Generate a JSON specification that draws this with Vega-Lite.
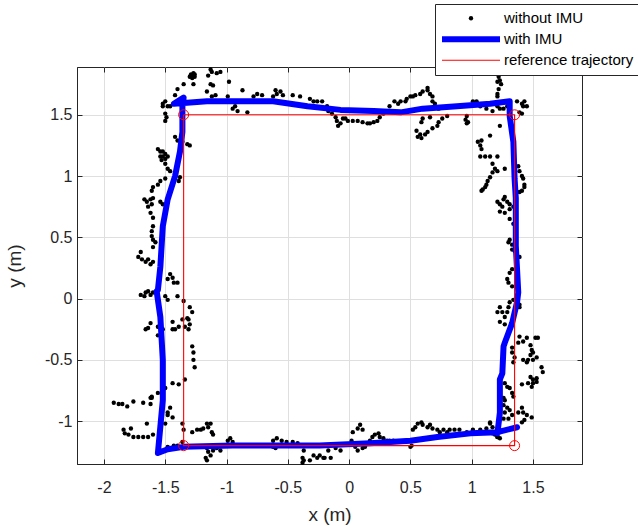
{
"$schema": "https://vega.github.io/schema/vega-lite/v6.json",
"width": 505, "height": 397,
"autosize": {"type": "none"},
"padding": {"left": 77, "top": 67, "right": 56, "bottom": 62},
"background": "white",
"config": {
  "view": {"stroke": "#262626", "strokeWidth": 1},
  "axis": {"labelFont": "Liberation Sans", "titleFont": "Liberation Sans", "labelFontSize": 16, "titleFontSize": 19, "titleFontWeight": "normal", "labelColor": "#262626", "titleColor": "#262626", "domainColor": "#262626", "tickColor": "#262626", "gridColor": "#dfdfdf", "gridOpacity": 1, "tickSize": -5, "tickWidth": 1},
  "legend": {"orient": "none", "legendX": 358, "legendY": -63, "title": null, "clipHeight": 20.5, "rowPadding": 0, "padding": 4, "labelOffset": 1, "labelFont": "Liberation Sans", "labelFontSize": 15, "labelColor": "#000000", "strokeColor": "#262626", "fillColor": "white", "labelLimit": 300, "symbolOpacity": 1}
},
"datasets": {
"pts": [
{"x":-1.50,"y":1.61},{"x":-1.48,"y":1.57},{"x":-1.50,"y":1.51},{"x":-1.49,"y":1.48},{"x":-1.50,"y":1.45},{"x":-1.42,"y":1.32},{"x":-1.40,"y":1.29},{"x":-1.36,"y":1.28},{"x":-1.32,"y":1.26},{"x":-1.30,"y":1.25},{"x":-1.56,"y":1.22},{"x":-1.54,"y":1.20},{"x":-1.52,"y":1.20},{"x":-1.50,"y":1.18},{"x":-1.54,"y":1.16},{"x":-1.52,"y":1.16},{"x":-1.48,"y":1.16},{"x":-1.53,"y":1.13},{"x":-1.50,"y":1.14},{"x":-1.50,"y":1.10},{"x":-1.48,"y":1.06},{"x":-1.46,"y":1.04},{"x":-1.38,"y":0.99},{"x":-1.39,"y":0.96},{"x":-1.50,"y":0.98},{"x":-1.54,"y":0.96},{"x":-1.56,"y":0.93},{"x":-1.60,"y":0.91},{"x":-1.61,"y":0.88},{"x":-1.67,"y":0.81},{"x":-1.65,"y":0.79},{"x":-1.62,"y":0.81},{"x":-1.61,"y":0.77},{"x":-1.64,"y":0.75},{"x":-1.60,"y":0.82},{"x":-1.54,"y":0.79},{"x":-1.52,"y":0.77},{"x":-1.62,"y":0.70},{"x":-1.60,"y":0.66},{"x":-1.60,"y":0.59},{"x":-1.61,"y":0.55},{"x":-1.61,"y":0.51},{"x":-1.60,"y":0.48},{"x":-1.58,"y":0.46},{"x":-1.60,"y":0.42},{"x":-1.70,"y":0.38},{"x":-1.72,"y":0.34},{"x":-1.69,"y":0.32},{"x":-1.66,"y":0.30},{"x":-1.64,"y":0.32},{"x":-1.60,"y":0.30},{"x":-1.62,"y":0.28},{"x":-1.46,"y":0.20},{"x":-1.44,"y":0.17},{"x":-1.48,"y":0.16},{"x":-1.43,"y":0.13},{"x":-1.40,"y":0.13},{"x":-1.70,"y":0.03},{"x":-1.66,"y":0.05},{"x":-1.64,"y":0.06},{"x":-1.62,"y":0.03},{"x":-1.60,"y":0.05},{"x":-1.67,"y":0.02},{"x":-1.50,"y":0.02},{"x":-1.48,"y":-0.01},{"x":-1.40,"y":0.02},{"x":-1.35,"y":-0.02},{"x":-1.30,"y":-0.07},{"x":-1.28,"y":-0.11},{"x":-1.31,"y":-0.17},{"x":-1.32,"y":-0.16},{"x":-1.30,"y":-0.21},{"x":-1.62,"y":-0.20},{"x":-1.64,"y":-0.24},{"x":-1.66,"y":-0.25},{"x":-1.56,"y":-0.23},{"x":-1.52,"y":-0.25},{"x":-1.44,"y":-0.19},{"x":-1.42,"y":-0.25},{"x":-1.36,"y":-0.17},{"x":-1.34,"y":-0.23},{"x":-1.31,"y":-0.25},{"x":-1.44,"y":-0.25},{"x":-1.39,"y":-0.23},{"x":-1.56,"y":-0.30},{"x":-1.28,"y":-0.39},{"x":-1.27,"y":-0.44},{"x":-1.27,"y":-0.50},{"x":-1.26,"y":-0.56},{"x":-1.44,"y":-0.69},{"x":-1.39,"y":-0.70},{"x":-1.34,"y":-0.66},{"x":-1.50,"y":-0.73},{"x":-1.61,"y":-0.80},{"x":-1.62,"y":-0.81},
{"x":-1.28,"y":1.82},{"x":-1.27,"y":1.84},{"x":-1.30,"y":1.81},{"x":-1.26,"y":1.81},{"x":-1.29,"y":1.83},{"x":-1.26,"y":1.83},{"x":-1.28,"y":1.80},{"x":-1.35,"y":1.75},{"x":-1.27,"y":1.75},{"x":-1.13,"y":1.87},{"x":-1.12,"y":1.85},{"x":-1.08,"y":1.84},{"x":-1.05,"y":1.85},{"x":-1.15,"y":1.82},{"x":-1.13,"y":1.75},{"x":-1.11,"y":1.74},{"x":-0.98,"y":1.77},{"x":-1.40,"y":1.71},{"x":-1.42,"y":1.66},{"x":-1.16,"y":1.69},{"x":-1.09,"y":1.66},{"x":-1.12,"y":1.65},{"x":-0.87,"y":1.70},{"x":-0.99,"y":1.65},{"x":-0.95,"y":1.61},{"x":-0.93,"y":1.57},{"x":-0.91,"y":1.53},{"x":-0.95,"y":1.55},{"x":-0.83,"y":1.52},{"x":-0.81,"y":1.61},{"x":-0.78,"y":1.65},{"x":-0.75,"y":1.67},{"x":-0.71,"y":1.66},{"x":-0.60,"y":1.70},{"x":-0.59,"y":1.67},{"x":-0.56,"y":1.69},{"x":-0.54,"y":1.66},{"x":-0.62,"y":1.65},{"x":-0.46,"y":1.66},{"x":-0.40,"y":1.65},{"x":-0.32,"y":1.63},{"x":-0.29,"y":1.61},{"x":-0.26,"y":1.61},{"x":-0.22,"y":1.61},{"x":-0.18,"y":1.57},{"x":-0.17,"y":1.53},{"x":-0.14,"y":1.51},{"x":-0.11,"y":1.48},{"x":-0.10,"y":1.45},{"x":-0.07,"y":1.43},{"x":-0.09,"y":1.41},{"x":-0.05,"y":1.47},{"x":-0.01,"y":1.45},{"x":0.07,"y":1.45},{"x":-1.52,"y":1.57},{"x":-1.52,"y":1.59},{"x":-1.46,"y":1.57},
{"x":-0.03,"y":1.47},{"x":0.03,"y":1.45},{"x":0.11,"y":1.44},{"x":0.15,"y":1.43},{"x":0.17,"y":1.43},{"x":0.20,"y":1.44},{"x":0.23,"y":1.45},{"x":0.25,"y":1.48},{"x":0.28,"y":1.51},{"x":0.27,"y":1.52},{"x":0.33,"y":1.57},{"x":0.37,"y":1.61},{"x":0.40,"y":1.59},{"x":0.42,"y":1.61},{"x":0.46,"y":1.61},{"x":0.47,"y":1.63},{"x":0.50,"y":1.65},{"x":0.52,"y":1.65},{"x":0.54,"y":1.66},{"x":0.58,"y":1.67},{"x":0.60,"y":1.69},{"x":0.64,"y":1.70},{"x":0.64,"y":1.72},{"x":0.66,"y":1.67},{"x":0.68,"y":1.65},{"x":0.68,"y":1.61},{"x":0.70,"y":1.59},{"x":0.73,"y":1.55},{"x":0.80,"y":1.49},{"x":0.76,"y":1.47},{"x":0.73,"y":1.44},{"x":0.72,"y":1.41},{"x":0.68,"y":1.39},{"x":0.64,"y":1.36},{"x":0.62,"y":1.34},{"x":0.58,"y":1.34},{"x":0.55,"y":1.37},{"x":0.56,"y":1.32},{"x":0.59,"y":1.44},{"x":0.60,"y":1.47},{"x":0.66,"y":1.48},{"x":0.96,"y":1.49},{"x":0.95,"y":1.46},{"x":0.96,"y":1.43},{"x":0.97,"y":1.44},{"x":1.01,"y":1.61},{"x":1.04,"y":1.61},{"x":1.07,"y":1.57},{"x":1.12,"y":1.55},{"x":1.17,"y":1.53},{"x":1.21,"y":1.57},{"x":1.23,"y":1.55},{"x":1.26,"y":1.55},{"x":1.29,"y":1.57},{"x":1.22,"y":1.81},{"x":1.23,"y":1.78},{"x":1.21,"y":1.77},{"x":1.24,"y":1.75},{"x":1.22,"y":1.71},{"x":1.21,"y":1.67},{"x":1.21,"y":1.65},{"x":1.37,"y":1.61},{"x":1.41,"y":1.59},{"x":1.43,"y":1.61},{"x":1.45,"y":1.57},{"x":1.42,"y":1.57},{"x":1.39,"y":1.52},{"x":1.41,"y":1.51},{"x":1.23,"y":1.41},{"x":0.59,"y":1.31},
{"x":1.15,"y":1.33},{"x":1.08,"y":1.29},{"x":1.07,"y":1.25},{"x":1.05,"y":1.28},{"x":1.08,"y":1.22},{"x":1.07,"y":1.16},{"x":1.11,"y":1.16},{"x":1.15,"y":1.16},{"x":1.21,"y":1.16},{"x":1.17,"y":1.10},{"x":1.19,"y":1.06},{"x":1.21,"y":1.04},{"x":1.17,"y":1.03},{"x":1.27,"y":1.06},{"x":1.15,"y":0.99},{"x":1.13,"y":0.96},{"x":1.12,"y":0.93},{"x":1.11,"y":0.91},{"x":1.09,"y":0.89},{"x":1.08,"y":0.88},{"x":1.38,"y":1.08},{"x":1.39,"y":1.04},{"x":1.41,"y":1.00},{"x":1.42,"y":0.98},{"x":1.43,"y":0.93},{"x":1.43,"y":0.91},{"x":1.41,"y":0.88},{"x":1.39,"y":0.87},{"x":1.27,"y":0.83},{"x":1.21,"y":0.79},{"x":1.23,"y":0.77},{"x":1.26,"y":0.81},{"x":1.29,"y":0.79},{"x":1.31,"y":0.77},{"x":1.34,"y":0.75},{"x":1.23,"y":0.71},{"x":1.27,"y":0.70},{"x":1.31,"y":0.73},{"x":1.25,"y":0.75},{"x":1.31,"y":0.65},{"x":1.34,"y":0.61},{"x":1.31,"y":0.48},{"x":1.30,"y":0.46},{"x":1.33,"y":0.44},{"x":1.33,"y":0.40},{"x":1.35,"y":0.39},{"x":1.39,"y":0.34},{"x":1.33,"y":0.24},{"x":1.31,"y":0.21},{"x":1.29,"y":0.16},{"x":1.30,"y":0.13},{"x":1.33,"y":0.10},{"x":1.34,"y":-0.01},{"x":1.31,"y":-0.03},{"x":1.30,"y":-0.07},{"x":1.39,"y":-0.05},{"x":1.39,"y":-0.07},{"x":1.23,"y":-0.07},{"x":1.21,"y":-0.11},{"x":1.25,"y":-0.11},{"x":1.29,"y":-0.11},{"x":1.27,"y":-0.15},{"x":1.23,"y":-0.19},{"x":1.27,"y":-0.21},{"x":1.39,"y":-0.31},{"x":1.38,"y":-0.36},{"x":1.42,"y":-0.35},{"x":1.45,"y":-0.32},{"x":1.52,"y":-0.32},{"x":1.54,"y":-0.32},{"x":1.48,"y":-0.38},{"x":1.49,"y":-0.42},{"x":1.50,"y":-0.44},{"x":1.48,"y":-0.46},{"x":1.46,"y":-0.50},{"x":1.50,"y":-0.50},{"x":1.53,"y":-0.48},{"x":1.42,"y":-0.50},{"x":1.45,"y":-0.52},{"x":1.57,"y":-0.56},{"x":1.58,"y":-0.60},{"x":1.33,"y":-0.40},{"x":1.33,"y":-0.44},{"x":1.35,"y":-0.48},{"x":1.34,"y":-0.52},{"x":1.48,"y":-0.64},{"x":1.50,"y":-0.66},{"x":1.53,"y":-0.65},{"x":1.46,"y":-0.69},{"x":1.49,"y":-0.72},{"x":1.27,"y":-0.69},{"x":1.29,"y":-0.72},{"x":1.31,"y":-0.73},{"x":1.33,"y":-0.77},{"x":1.34,"y":-0.80},{"x":1.41,"y":-0.70},{"x":1.50,"y":-0.69},{"x":1.53,"y":-0.68},{"x":1.26,"y":-0.87},{"x":1.29,"y":-0.89},{"x":1.31,"y":-0.91},{"x":1.27,"y":-0.93},{"x":1.33,"y":-0.95},{"x":1.30,"y":-0.98},{"x":1.26,"y":-0.98},{"x":1.26,"y":-0.81},{"x":1.27,"y":-0.83},{"x":1.41,"y":-0.89},{"x":1.42,"y":-0.93},{"x":1.38,"y":-0.93},{"x":1.45,"y":-0.95},{"x":1.43,"y":-0.99},{"x":1.41,"y":-1.01},{"x":1.49,"y":-0.97},{"x":1.15,"y":-1.01},{"x":1.17,"y":-1.05},{"x":1.23,"y":-1.09},{"x":1.21,"y":-1.13},{"x":1.23,"y":-1.14},
{"x":-1.92,"y":-0.85},{"x":-1.88,"y":-0.86},{"x":-1.85,"y":-0.86},{"x":-1.81,"y":-0.88},{"x":-1.76,"y":-0.84},{"x":-1.68,"y":-0.85},{"x":-1.62,"y":-0.86},{"x":-1.61,"y":-0.81},{"x":-1.56,"y":-0.77},{"x":-1.52,"y":-0.75},{"x":-1.52,"y":-0.72},{"x":-1.46,"y":-0.89},{"x":-1.48,"y":-0.93},{"x":-1.48,"y":-0.95},{"x":-1.44,"y":-0.97},{"x":-1.50,"y":-1.02},{"x":-1.36,"y":-1.02},{"x":-1.35,"y":-1.07},{"x":-1.65,"y":-1.02},{"x":-1.84,"y":-1.07},{"x":-1.83,"y":-1.10},{"x":-1.80,"y":-1.11},{"x":-1.76,"y":-1.13},{"x":-1.72,"y":-1.13},{"x":-1.68,"y":-1.13},{"x":-1.64,"y":-1.13},{"x":-1.60,"y":-1.11},{"x":-1.78,"y":-1.06},{"x":-1.48,"y":-1.21},{"x":-1.46,"y":-1.22},{"x":-1.43,"y":-1.20},{"x":-1.40,"y":-1.20},{"x":-1.36,"y":-1.17},{"x":-1.28,"y":-1.09},{"x":-1.24,"y":-1.07},{"x":-1.21,"y":-1.07},{"x":-1.19,"y":-1.06},{"x":-1.16,"y":-1.02},{"x":-1.15,"y":-1.05},{"x":-1.13,"y":-1.02},{"x":-1.12,"y":-1.09},{"x":-1.11,"y":-1.11},{"x":-1.16,"y":-1.22},{"x":-1.15,"y":-1.25},{"x":-1.13,"y":-1.28},{"x":-1.17,"y":-1.30},{"x":-1.16,"y":-1.32},{"x":-1.11,"y":-1.24},{"x":-1.08,"y":-1.22},{"x":-1.05,"y":-1.24},{"x":-0.99,"y":-1.16},{"x":-0.97,"y":-1.14},{"x":-0.95,"y":-1.17},{"x":-0.62,"y":-1.16},{"x":-0.59,"y":-1.14},{"x":-0.55,"y":-1.16},{"x":-0.51,"y":-1.17},{"x":-0.46,"y":-1.17},{"x":-0.42,"y":-1.18},{"x":-0.62,"y":-1.21},{"x":-0.60,"y":-1.22},{"x":-0.37,"y":-1.24},{"x":-0.38,"y":-1.30},{"x":-0.37,"y":-1.32},{"x":-0.38,"y":-1.34},{"x":-0.32,"y":-1.32},{"x":-0.29,"y":-1.28},{"x":-0.26,"y":-1.30},{"x":-0.24,"y":-1.28},{"x":-0.21,"y":-1.30},{"x":-0.17,"y":-1.24},{"x":-0.20,"y":-1.30},{"x":-0.15,"y":-1.30},{"x":-0.11,"y":-1.22},{"x":-0.07,"y":-1.24},{"x":0.02,"y":-1.16},{"x":0.03,"y":-1.09},{"x":0.07,"y":-1.06},{"x":0.09,"y":-1.03},{"x":0.11,"y":-1.07},{"x":0.05,"y":-1.21},{"x":0.07,"y":-1.24},{"x":0.11,"y":-1.22},{"x":0.13,"y":-1.21},{"x":0.17,"y":-1.16},{"x":0.19,"y":-1.13},{"x":0.21,"y":-1.11},{"x":0.24,"y":-1.10},{"x":0.25,"y":-1.13},{"x":0.28,"y":-1.14},{"x":0.31,"y":-1.16},{"x":0.33,"y":-1.16},{"x":0.36,"y":-1.16},{"x":0.50,"y":-1.21},{"x":0.51,"y":-1.20},{"x":0.52,"y":-1.07},{"x":0.54,"y":-1.05},{"x":0.56,"y":-1.02},{"x":0.59,"y":-1.01},{"x":0.60,"y":-1.03},{"x":0.64,"y":-1.05},{"x":0.66,"y":-1.03},{"x":0.68,"y":-1.06},{"x":0.72,"y":-1.07},{"x":0.74,"y":-1.09},{"x":0.77,"y":-1.07},{"x":0.80,"y":-1.09},{"x":0.82,"y":-1.07},{"x":0.86,"y":-1.07},{"x":0.90,"y":-1.07},{"x":0.96,"y":-1.09},{"x":1.01,"y":-1.07},{"x":1.07,"y":-1.07},{"x":1.12,"y":-1.06},{"x":1.15,"y":-1.02},{"x":1.17,"y":-1.10},{"x":1.19,"y":-1.11},{"x":1.21,"y":-1.13}
],
"imu": [
{"i":0,"x":1.21,"y":-1.10},{"i":1,"x":1.23,"y":-0.93},{"i":2,"x":1.23,"y":-0.66},{"i":3,"x":1.25,"y":-0.61},{"i":4,"x":1.26,"y":-0.39},{"i":5,"x":1.27,"y":-0.36},{"i":6,"x":1.33,"y":-0.20},{"i":7,"x":1.37,"y":-0.03},{"i":8,"x":1.38,"y":0.05},{"i":9,"x":1.36,"y":0.43},{"i":10,"x":1.36,"y":0.82},{"i":11,"x":1.35,"y":0.98},{"i":12,"x":1.34,"y":1.28},{"i":13,"x":1.31,"y":1.49},{"i":14,"x":1.31,"y":1.61},{"i":15,"x":1.15,"y":1.59},{"i":16,"x":0.88,"y":1.57},{"i":17,"x":0.60,"y":1.55},{"i":18,"x":0.42,"y":1.52},{"i":19,"x":0.20,"y":1.53},{"i":20,"x":-0.07,"y":1.54},{"i":21,"x":-0.34,"y":1.57},{"i":22,"x":-0.62,"y":1.61},{"i":23,"x":-0.89,"y":1.61},{"i":24,"x":-1.16,"y":1.61},{"i":25,"x":-1.43,"y":1.59},{"i":26,"x":-1.35,"y":1.64},{"i":27,"x":-1.36,"y":1.57},{"i":28,"x":-1.36,"y":1.36},{"i":29,"x":-1.38,"y":1.20},{"i":30,"x":-1.42,"y":1.00},{"i":31,"x":-1.48,"y":0.81},{"i":32,"x":-1.52,"y":0.59},{"i":33,"x":-1.54,"y":0.26},{"i":34,"x":-1.56,"y":0.07},{"i":35,"x":-1.57,"y":0.06},{"i":36,"x":-1.54,"y":-0.15},{"i":37,"x":-1.52,"y":-0.50},{"i":38,"x":-1.52,"y":-0.83},{"i":39,"x":-1.56,"y":-1.26},{"i":40,"x":-1.48,"y":-1.23},{"i":41,"x":-1.35,"y":-1.21},{"i":42,"x":-0.95,"y":-1.20},{"i":43,"x":-0.40,"y":-1.20},{"i":44,"x":-0.24,"y":-1.20},{"i":45,"x":0.17,"y":-1.18},{"i":46,"x":0.50,"y":-1.16},{"i":47,"x":0.72,"y":-1.13},{"i":48,"x":0.99,"y":-1.10},{"i":49,"x":1.21,"y":-1.09},{"i":50,"x":1.37,"y":-1.05}
],
"ref": [
{"i":0,"x":-1.35,"y":1.5},{"i":1,"x":1.35,"y":1.5},{"i":2,"x":1.35,"y":-1.2},{"i":3,"x":-1.35,"y":-1.2},{"i":4,"x":-1.35,"y":1.5}
],
"corners": [
{"x":-1.35,"y":1.5},{"x":1.35,"y":1.5},{"x":1.35,"y":-1.2},{"x":-1.35,"y":-1.2}
]
},
"layer": [
{
 "data": {"name": "pts"},
 "mark": {"type": "point", "filled": true, "opacity": 1},
 "encoding": {
  "x": {"field": "x", "type": "quantitative", "scale": {"domain": [-2.22, 1.9], "nice": false, "zero": false},
        "axis": {"title": "x (m)", "values": [-2,-1.5,-1,-0.5,0,0.5,1,1.5], "labelExpr": "toString(datum.value)", "labelPadding": 20, "titlePadding": 10, "grid": true}},
  "y": {"field": "y", "type": "quantitative", "scale": {"domain": [-1.35, 1.89], "nice": false, "zero": false},
        "axis": {"title": "y (m)", "values": [-1,-0.5,0,0.5,1,1.5], "labelExpr": "toString(datum.value)", "labelPadding": 10, "titlePadding": 20, "grid": true}},
  "color": {"datum": "without IMU", "type": "nominal",
    "scale": {"domain": ["without IMU", "with IMU", "reference trajectory"], "range": ["#000000", "#0000ff", "#ff0000"]}},
  "shape": {"datum": "without IMU", "type": "nominal",
    "scale": {"domain": ["without IMU", "with IMU", "reference trajectory"], "range": ["circle", "stroke", "stroke"]}},
  "size": {"datum": "without IMU", "type": "nominal",
    "scale": {"type": "ordinal", "domain": ["without IMU", "with IMU", "reference trajectory"], "range": [19, 3364, 3364]}}
 }
},
{
 "data": {"name": "imu"},
 "mark": {"type": "line", "strokeJoin": "round", "strokeCap": "round"},
 "encoding": {
  "x": {"field": "x", "type": "quantitative", "scale": {"domain": [-2.22, 1.9], "nice": false, "zero": false}, "axis": null},
  "y": {"field": "y", "type": "quantitative", "scale": {"domain": [-1.35, 1.89], "nice": false, "zero": false}, "axis": null},
  "order": {"field": "i", "type": "quantitative"},
  "color": {"datum": "with IMU", "type": "nominal"},
  "strokeWidth": {"datum": "with IMU", "type": "nominal",
    "scale": {"type": "ordinal", "domain": ["without IMU", "with IMU", "reference trajectory"], "range": [0, 6, 1.1]}}
 }
},
{
 "data": {"name": "ref"},
 "mark": {"type": "line"},
 "encoding": {
  "x": {"field": "x", "type": "quantitative", "scale": {"domain": [-2.22, 1.9], "nice": false, "zero": false}, "axis": null},
  "y": {"field": "y", "type": "quantitative", "scale": {"domain": [-1.35, 1.89], "nice": false, "zero": false}, "axis": null},
  "order": {"field": "i", "type": "quantitative"},
  "color": {"datum": "reference trajectory", "type": "nominal"},
  "strokeWidth": {"datum": "reference trajectory", "type": "nominal",
    "scale": {"type": "ordinal", "domain": ["without IMU", "with IMU", "reference trajectory"], "range": [0, 6, 1.1]}}
 }
},
{
 "data": {"name": "corners"},
 "mark": {"type": "point", "filled": false, "size": 100, "strokeWidth": 1, "color": "#ff0000", "opacity": 1},
 "encoding": {
  "x": {"field": "x", "type": "quantitative", "scale": {"domain": [-2.22, 1.9], "nice": false, "zero": false},
        "axis": {"orient": "top", "title": null, "labels": false, "grid": false, "domain": false, "values": [-2,-1.5,-1,-0.5,0,0.5,1,1.5]}},
  "y": {"field": "y", "type": "quantitative", "scale": {"domain": [-1.35, 1.89], "nice": false, "zero": false},
        "axis": {"orient": "right", "title": null, "labels": false, "grid": false, "domain": false, "values": [-1,-0.5,0,0.5,1,1.5]}}
 }
}
],
"resolve": {"axis": {"x": "independent", "y": "independent"}}
}
